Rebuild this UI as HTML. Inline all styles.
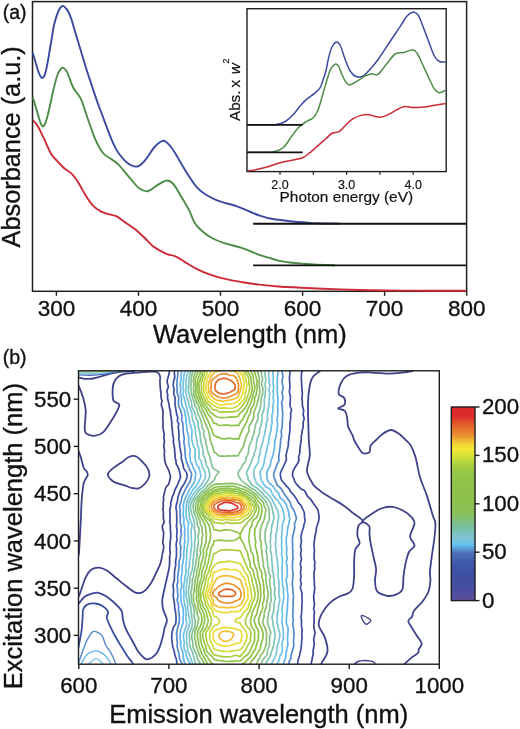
<!DOCTYPE html>
<html><head><meta charset="utf-8"><style>
html,body{margin:0;padding:0;background:#fff;}
svg{display:block;will-change:transform;}
text{font-family:"Liberation Sans", sans-serif;fill:#111;stroke:#111;stroke-width:0.35px;}
</style></head><body>
<svg width="520" height="729" viewBox="0 0 520 729">
<defs>
<clipPath id="clipI"><rect x="247.0" y="8.7" width="199.2" height="162.9"/></clipPath>
<clipPath id="clipB"><rect x="78.5" y="370.8" width="360.8" height="293.40000000000003"/></clipPath>
<linearGradient id="cbg" x1="0" y1="0" x2="0" y2="1"><stop offset="0.000" stop-color="#d92a2a"/><stop offset="0.045" stop-color="#dc2a2a"/><stop offset="0.100" stop-color="#e4662b"/><stop offset="0.150" stop-color="#eb9230"/><stop offset="0.190" stop-color="#f2d235"/><stop offset="0.220" stop-color="#f4e637"/><stop offset="0.250" stop-color="#d9e23a"/><stop offset="0.300" stop-color="#a8d040"/><stop offset="0.350" stop-color="#93c548"/><stop offset="0.480" stop-color="#8cc04c"/><stop offset="0.550" stop-color="#88c05a"/><stop offset="0.620" stop-color="#79bfa0"/><stop offset="0.676" stop-color="#7ec4d4"/><stop offset="0.713" stop-color="#62c1ef"/><stop offset="0.755" stop-color="#4d6fb8"/><stop offset="0.810" stop-color="#3e56a6"/><stop offset="0.870" stop-color="#3d4fa0"/><stop offset="0.940" stop-color="#4a4ea0"/><stop offset="1.000" stop-color="#5b4c9c"/></linearGradient>
</defs>
<rect x="32.5" y="1.6" width="434.1" height="289.7" fill="none" stroke="#1e1e1e" stroke-width="1.5"/>
<line x1="56.4" y1="291.3" x2="56.4" y2="295.8" stroke="#1e1e1e" stroke-width="1.4"/>
<text x="56.4" y="316.3" font-size="22.5" text-anchor="middle">300</text>
<line x1="138.5" y1="291.3" x2="138.5" y2="295.8" stroke="#1e1e1e" stroke-width="1.4"/>
<text x="138.5" y="316.3" font-size="22.5" text-anchor="middle">400</text>
<line x1="220.5" y1="291.3" x2="220.5" y2="295.8" stroke="#1e1e1e" stroke-width="1.4"/>
<text x="220.5" y="316.3" font-size="22.5" text-anchor="middle">500</text>
<line x1="302.6" y1="291.3" x2="302.6" y2="295.8" stroke="#1e1e1e" stroke-width="1.4"/>
<text x="302.6" y="316.3" font-size="22.5" text-anchor="middle">600</text>
<line x1="384.6" y1="291.3" x2="384.6" y2="295.8" stroke="#1e1e1e" stroke-width="1.4"/>
<text x="384.6" y="316.3" font-size="22.5" text-anchor="middle">700</text>
<line x1="466.7" y1="291.3" x2="466.7" y2="295.8" stroke="#1e1e1e" stroke-width="1.4"/>
<text x="466.7" y="316.3" font-size="22.5" text-anchor="middle">800</text>
<path d="M32.8,53.0C33.2,54.2 34.2,57.8 35.0,60.5C35.8,63.2 36.7,66.5 37.5,69.0C38.3,71.5 39.2,74.0 40.0,75.5C40.8,77.0 41.3,77.8 42.0,78.0C42.7,78.2 43.3,77.8 44.0,76.5C44.7,75.2 45.3,73.2 46.0,70.5C46.7,67.8 47.3,64.2 48.0,60.5C48.7,56.8 49.3,52.4 50.0,48.5C50.7,44.6 51.3,40.9 52.0,37.0C52.7,33.1 52.9,29.3 54.0,25.0C55.1,20.7 57.1,14.2 58.5,11.0C59.9,7.8 61.2,6.3 62.5,5.9C63.8,5.5 65.0,7.5 66.0,8.5C67.0,9.5 67.6,10.2 68.5,12.0C69.4,13.8 70.5,16.7 71.5,19.5C72.5,22.3 72.8,24.1 74.2,28.8C75.6,33.5 78.1,41.6 80.0,48.0C81.9,54.4 83.9,61.2 85.8,67.3C87.7,73.4 89.6,78.8 91.5,84.6C93.4,90.4 95.4,96.5 97.3,101.9C99.2,107.4 101.2,112.2 103.1,117.3C105.0,122.4 107.1,128.2 108.8,132.7C110.5,137.1 111.9,140.6 113.5,144.0C115.1,147.4 116.1,149.8 118.5,153.0C120.9,156.2 124.6,161.1 127.7,163.3C130.8,165.6 134.4,167.0 137.3,166.5C140.2,166.0 142.1,163.7 145.0,160.4C147.9,157.2 151.5,150.3 154.6,147.0C157.7,143.7 160.6,140.8 163.3,140.8C166.0,140.8 168.6,144.2 171.0,147.0C173.4,149.8 175.0,153.0 177.7,157.5C180.4,162.0 184.1,168.8 187.3,173.8C190.5,178.8 193.7,183.8 196.9,187.3C200.1,190.8 203.0,192.8 206.5,195.0C210.0,197.2 212.6,198.7 217.7,200.6C222.8,202.5 231.6,204.5 236.9,206.3C242.2,208.1 245.9,210.0 249.6,211.5C253.3,213.0 256.0,214.3 259.2,215.4C262.4,216.5 265.6,217.6 268.8,218.3C272.0,219.0 275.0,219.3 278.5,219.8C282.0,220.3 285.8,220.8 290.0,221.2C294.2,221.6 298.8,222.0 303.5,222.3C308.2,222.6 311.9,223.0 318.0,223.2C324.1,223.4 336.3,223.5 340.0,223.6" fill="none" stroke="#3b4a9e" stroke-width="1.9"/>
<path d="M32.8,97.4C33.2,98.6 34.2,101.9 35.0,104.5C35.8,107.1 36.7,110.2 37.5,113.0C38.3,115.8 39.2,119.3 40.0,121.5C40.8,123.7 41.6,125.8 42.4,126.3C43.2,126.8 44.0,125.7 44.7,124.5C45.4,123.3 46.1,121.1 46.7,119.0C47.3,116.9 47.8,115.0 48.5,112.0C49.2,109.0 50.2,104.8 51.0,101.0C51.8,97.2 52.4,93.8 53.5,89.5C54.6,85.2 56.0,78.6 57.5,75.0C59.0,71.4 60.8,68.4 62.3,67.7C63.8,67.0 65.3,69.3 66.5,71.0C67.7,72.7 68.3,75.2 69.4,78.0C70.5,80.8 71.4,84.2 73.3,87.7C75.2,91.2 78.6,94.1 81.0,99.2C83.4,104.3 85.3,111.8 87.7,118.5C90.1,125.2 92.9,133.8 95.4,139.6C98.0,145.3 100.4,149.8 103.0,153.0C105.6,156.2 108.2,156.9 110.8,158.8C113.4,160.7 115.4,161.4 118.5,164.6C121.6,167.8 126.1,173.8 129.6,177.7C133.0,181.6 136.1,186.1 139.2,188.3C142.2,190.6 144.7,191.8 147.9,191.2C151.1,190.5 155.4,186.2 158.5,184.4C161.6,182.6 163.8,180.8 166.2,180.6C168.6,180.4 170.3,180.8 172.9,183.5C175.5,186.2 178.8,192.4 181.5,196.9C184.2,201.4 187.0,206.1 189.2,210.4C191.4,214.7 192.4,219.2 194.6,222.7C196.8,226.2 199.4,228.8 202.3,231.3C205.2,233.9 208.4,236.1 211.9,238.0C215.4,239.9 218.7,241.3 223.5,242.9C228.3,244.5 236.5,246.3 240.8,247.7C245.2,249.0 246.5,249.8 249.6,251.0C252.7,252.2 256.0,253.7 259.2,254.8C262.4,255.9 265.6,256.7 268.8,257.7C272.0,258.7 275.0,259.8 278.5,260.6C282.0,261.4 285.8,262.0 290.0,262.5C294.2,263.0 299.0,263.4 303.5,263.8C308.0,264.2 311.8,264.5 317.0,264.7C322.2,264.9 332.0,265.1 335.0,265.2" fill="none" stroke="#4d8c47" stroke-width="1.9"/>
<path d="M33.0,120.4C33.8,121.3 36.0,123.1 37.7,126.0C39.5,128.9 41.2,133.0 43.5,137.7C45.8,142.4 49.0,150.2 51.2,154.0C53.5,157.8 54.8,158.4 57.0,160.8C59.2,163.2 62.2,166.4 64.6,168.5C67.0,170.6 69.1,171.1 71.3,173.3C73.5,175.5 75.3,177.9 77.7,181.5C80.1,185.1 82.9,191.0 85.4,195.0C88.0,199.0 90.4,202.9 93.0,205.6C95.6,208.3 98.2,209.9 100.8,211.3C103.4,212.7 105.9,213.4 108.5,214.2C111.1,215.0 113.3,214.8 116.2,216.2C119.1,217.6 122.6,220.7 125.8,222.9C129.0,225.1 132.2,227.0 135.4,229.6C138.6,232.2 142.1,235.6 145.0,238.3C147.9,241.0 150.1,243.9 152.7,246.0C155.3,248.1 157.9,249.4 160.4,250.8C162.9,252.2 165.2,253.5 167.7,254.4C170.2,255.3 172.5,255.0 175.4,256.3C178.3,257.6 181.5,260.0 185.0,262.1C188.5,264.2 192.3,266.7 196.5,268.8C200.7,270.9 204.9,272.8 210.0,274.6C215.1,276.4 221.9,278.1 227.3,279.4C232.8,280.7 237.4,281.4 242.7,282.3C248.0,283.2 253.2,283.9 259.2,284.6C265.2,285.3 272.1,286.0 278.5,286.5C284.9,287.0 291.3,287.2 297.7,287.5C304.1,287.8 309.9,288.2 317.0,288.5C324.1,288.8 331.2,289.1 340.0,289.4C348.8,289.7 360.0,290.0 370.0,290.2C380.0,290.4 384.0,290.5 400.0,290.6C416.0,290.7 455.0,290.8 466.0,290.8" fill="none" stroke="#cc2a36" stroke-width="1.9"/>
<line x1="253.1" y1="223.7" x2="466.6" y2="223.7" stroke="#111" stroke-width="1.9"/>
<line x1="253.1" y1="265.4" x2="466.6" y2="265.4" stroke="#111" stroke-width="1.9"/>
<rect x="247.0" y="8.7" width="199.2" height="162.9" fill="#fff" stroke="#1e1e1e" stroke-width="1.4"/>
<line x1="280.0" y1="171.6" x2="280.0" y2="174.79999999999998" stroke="#1e1e1e" stroke-width="1.2"/>
<line x1="313.3" y1="171.6" x2="313.3" y2="174.79999999999998" stroke="#1e1e1e" stroke-width="1.2"/>
<line x1="346.6" y1="171.6" x2="346.6" y2="174.79999999999998" stroke="#1e1e1e" stroke-width="1.2"/>
<line x1="379.9" y1="171.6" x2="379.9" y2="174.79999999999998" stroke="#1e1e1e" stroke-width="1.2"/>
<line x1="413.2" y1="171.6" x2="413.2" y2="174.79999999999998" stroke="#1e1e1e" stroke-width="1.2"/>
<text x="280.0" y="189.3" font-size="12.5" text-anchor="middle" style="stroke-width:0.15px">2.0</text>
<text x="346.6" y="189.3" font-size="12.5" text-anchor="middle" style="stroke-width:0.15px">3.0</text>
<text x="413.2" y="189.3" font-size="12.5" text-anchor="middle" style="stroke-width:0.15px">4.0</text>
<g clip-path="url(#clipI)">
<path d="M247.5,124.8C251.2,124.8 265.0,124.9 270.0,124.8C275.0,124.7 275.1,124.8 277.7,124.2C280.3,123.7 282.8,123.1 285.4,121.5C287.9,119.9 290.4,117.5 293.0,114.8C295.6,112.1 298.6,107.8 300.8,105.2C303.1,102.6 304.3,101.3 306.5,99.4C308.7,97.5 311.9,95.6 314.2,93.7C316.4,91.8 318.5,90.2 320.0,87.9C321.5,85.6 322.0,82.7 323.0,80.0C324.0,77.3 324.8,75.3 325.8,71.5C326.8,67.7 327.7,61.1 328.8,56.9C329.9,52.6 331.1,48.5 332.5,46.0C333.9,43.5 335.6,41.9 336.9,41.9C338.2,41.9 339.4,44.0 340.5,46.0C341.6,48.0 342.3,51.2 343.3,54.0C344.3,56.8 345.3,60.1 346.5,63.0C347.7,65.9 348.9,69.2 350.5,71.5C352.1,73.8 353.8,75.8 355.9,76.5C358.0,77.2 360.8,77.2 363.3,75.9C365.8,74.6 368.3,71.2 370.7,68.5C373.1,65.8 374.8,64.1 377.9,59.8C381.0,55.5 385.5,48.3 389.4,42.5C393.2,36.7 398.1,29.6 401.0,25.2C403.9,20.8 405.1,18.2 407.0,16.0C408.9,13.8 410.9,12.6 412.5,12.2C414.1,11.8 415.3,12.5 416.5,13.5C417.7,14.5 418.0,14.1 419.7,18.0C421.4,21.9 424.5,30.5 426.9,36.7C429.3,43.0 432.0,51.4 434.1,55.5C436.2,59.6 437.5,60.5 439.4,61.5C441.3,62.5 444.5,61.8 445.5,61.8" fill="none" stroke="#3b4a9e" stroke-width="1.5"/>
<path d="M247.5,152.3C250.9,152.3 263.6,152.4 268.0,152.3C272.4,152.2 271.2,152.6 273.8,151.8C276.4,151.0 280.6,150.0 283.5,147.5C286.4,145.0 288.6,140.3 291.2,136.9C293.8,133.5 296.2,129.9 298.8,127.3C301.4,124.7 304.1,123.1 306.5,121.5C308.9,119.9 311.4,119.6 313.3,117.7C315.2,115.8 316.2,114.5 318.0,110.0C319.8,105.5 321.9,97.2 323.8,90.8C325.7,84.4 328.1,75.6 329.6,71.5C331.1,67.4 331.9,67.2 333.0,66.0C334.1,64.8 335.1,63.9 336.1,64.1C337.1,64.3 338.1,65.3 339.0,67.0C339.9,68.7 340.8,71.8 341.8,74.2C342.9,76.6 344.0,79.4 345.3,81.2C346.6,83.0 347.6,85.0 349.5,85.0C351.4,85.0 354.4,82.7 357.0,81.2C359.6,79.7 362.9,77.1 365.4,75.9C367.8,74.7 369.6,74.0 371.7,73.8C373.8,73.5 375.5,76.0 378.0,74.4C380.5,72.8 383.6,67.5 386.5,64.1C389.4,60.7 392.3,55.9 395.2,54.0C398.1,52.1 400.9,53.3 403.8,52.6C406.7,51.9 410.3,49.6 412.5,49.7C414.7,49.8 415.6,51.1 417.0,53.0C418.4,54.9 419.0,56.7 421.1,61.2C423.2,65.7 427.6,75.4 429.8,80.0C432.0,84.6 432.5,86.5 434.1,88.6C435.7,90.7 437.5,92.5 439.4,92.8C441.3,93.1 444.5,90.6 445.5,90.2" fill="none" stroke="#4d8c47" stroke-width="1.5"/>
<path d="M247.5,171.2C249.0,170.9 253.1,170.3 256.5,169.6C259.9,168.8 264.1,167.8 268.0,166.7C271.9,165.6 275.4,164.0 279.6,162.9C283.8,161.8 289.1,160.9 293.0,160.0C296.9,159.1 299.8,159.0 302.7,157.7C305.6,156.4 307.8,154.3 310.4,152.3C312.9,150.3 315.4,147.8 318.0,145.6C320.6,143.3 323.4,140.9 325.8,138.8C328.2,136.7 330.3,134.2 332.5,133.0C334.7,131.8 336.9,133.1 339.2,131.7C341.5,130.3 344.1,126.7 346.3,124.5C348.6,122.3 350.2,120.3 352.7,118.8C355.2,117.3 358.7,116.1 361.2,115.4C363.7,114.7 365.4,114.3 367.5,114.4C369.6,114.5 371.5,115.6 373.8,116.1C376.1,116.5 378.8,117.4 381.3,117.1C383.8,116.8 386.1,115.6 388.7,114.4C391.3,113.2 394.5,111.0 397.1,109.7C399.7,108.4 401.7,106.8 404.5,106.5C407.3,106.2 410.6,107.5 414.0,107.6C417.4,107.7 421.4,107.3 424.6,107.0C427.8,106.7 429.6,106.1 433.1,105.5C436.6,104.9 443.4,103.8 445.5,103.4" fill="none" stroke="#cc2a36" stroke-width="1.5"/>
</g>
<line x1="247.0" y1="124.8" x2="302.7" y2="124.8" stroke="#111" stroke-width="1.8"/>
<line x1="247.0" y1="152.3" x2="302.7" y2="152.3" stroke="#111" stroke-width="1.8"/>
<text x="279.6" y="202" font-size="15.4" style="stroke-width:0.2px">Photon energy (eV)</text>
<text transform="translate(239.6,121.0) rotate(-90)" font-size="15.2" style="stroke-width:0.2px"><tspan x="0">Abs.</tspan><tspan x="33.5">x</tspan><tspan x="46.8" font-style="italic">w</tspan><tspan x="57.2" y="-10.4" font-size="9.6">2</tspan></text>
<text x="2.7" y="19.3" font-size="19.5">(a)</text>
<text transform="translate(20.4,247.4) rotate(-90)" font-size="25.3">Absorbance (a.u.)</text>
<text x="152.9" y="342.7" font-size="25.6">Wavelength (nm)</text>
<g clip-path="url(#clipB)" fill="none" stroke-width="1.7" stroke-linejoin="round">
<path d="M162.2,555.8 162.3,554.3 162.9,552.0 163.8,547.0 163.7,545.8 162.8,543.5 162.7,542.5 163.1,540.0 163.7,532.8 162.8,529.8 162.3,526.8 162.5,525.5 163.8,523.2 164.1,522.0 163.4,518.0 163.3,511.8 162.9,508.8 163.4,506.1 163.1,503.1 163.7,500.3 163.4,497.1 165.6,488.1 166.4,486.6 168.2,484.8 168.7,484.1 169.5,481.3 170.5,476.6 168.9,470.6 166.1,465.1 164.6,460.3 164.6,457.3 164.2,454.3 164.6,451.1 163.8,445.6 164.5,441.1 163.9,438.1 164.2,434.6 162.9,427.1 163.1,421.6 162.7,417.6 163.0,414.3 163.0,410.6 161.3,405.1 161.4,403.6 162.0,400.8 161.1,397.8 161.0,393.8 160.1,386.1 159.9,379.8 160.5,377.6" stroke="#3f4189"/>
<path d="M169.7,555.8 170.3,552.8 169.8,549.3 170.1,542.0 170.6,539.0 170.8,534.8 170.3,528.8 170.4,525.5 169.7,522.0 170.1,518.8 170.0,513.8 169.7,510.1 170.6,506.8 170.8,502.6 171.6,500.1 172.2,497.1 174.0,493.1 175.0,489.6 177.4,485.1 180.6,477.3 179.5,471.1 177.6,466.3 176.2,463.8 175.9,460.3 175.1,457.8 175.1,454.8 174.6,451.3 174.6,448.3 173.4,442.6 173.5,438.8 172.7,434.8 172.3,428.8 171.7,425.8 171.8,422.6 171.4,419.1 170.6,414.6 170.5,411.8 169.5,407.8 169.1,404.6 167.5,398.3 167.7,394.8 167.0,392.1 166.9,390.8 168.2,387.6 168.3,386.6 167.2,382.3 167.1,380.8 168.8,374.8 169.9,368.8" stroke="#3d4694"/>
<path d="M303.0,368.8 301.5,373.1 301.3,378.3 301.8,386.1 301.8,388.8 302.4,393.1 301.9,398.6 302.3,401.1 302.3,404.3 302.9,407.8 303.7,410.3 303.1,414.8 304.0,417.6 304.1,418.6 303.1,423.1 303.2,427.1 302.3,430.1 301.9,433.6 301.3,436.1 301.3,439.1 300.0,448.1 299.7,453.8 298.6,456.8 299.0,460.3 297.6,463.6 294.7,467.8 293.2,470.7 292.8,472.1 292.5,475.1 292.7,476.3 293.8,478.4 294.6,481.1 296.4,484.1 301.0,488.9 303.8,490.2 304.5,490.8 305.8,492.8 307.5,496.3 310.8,499.3 312.6,502.3 317.3,508.8 318.2,510.9 319.0,516.3 319.1,518.0 318.2,522.8 316.6,527.0 316.2,530.5 314.8,537.5 313.9,544.3 314.4,549.8 314.0,558.3 314.9,562.3 314.5,565.5 314.8,568.8 313.9,572.8 314.4,582.3 314.3,584.8 314.8,588.0 314.4,590.8 314.3,593.0 313.6,596.0 314.4,604.5 313.6,608.8 314.5,612.0 314.0,615.3 314.2,621.5 313.8,624.8 314.0,628.8 314.9,631.5 315.0,633.3 313.7,639.3 314.2,644.3 313.1,651.0 313.2,654.3 312.3,657.8 311.9,660.5 311.2,663.3 310.8,666.0" stroke="#3d4694"/>
<path d="M177.8,666.0 176.8,663.3 176.5,659.5 175.2,656.3 174.1,650.8 172.8,647.0 171.9,640.3 171.7,636.5 171.9,633.5 173.2,627.8 173.7,626.5 175.0,625.0 175.8,623.3 176.1,618.5 175.7,613.0 174.6,607.5 174.7,604.8 173.2,596.0 173.6,590.0 173.0,586.0 173.4,583.5 174.4,579.8 174.5,572.0 174.9,568.8 175.7,565.8 175.6,561.0 176.4,556.8 176.5,548.3 176.1,544.5 177.0,540.0 176.7,536.0 177.1,530.0 176.4,526.5 176.8,522.5 176.7,516.5 176.6,511.6 176.1,508.8 176.0,506.8 176.3,505.1 177.3,501.8 177.9,497.6 178.9,494.1 181.6,487.6 184.1,484.1 186.4,479.1 187.0,477.3 187.1,475.6 186.9,473.8 186.5,472.6 183.5,468.1 183.1,464.8 181.2,458.1 181.5,454.8 180.6,452.1 180.5,449.8 179.8,447.1 179.5,442.3 178.7,438.6 179.1,435.3 178.8,433.1 178.9,430.8 178.1,427.3 178.8,423.8 177.3,420.8 177.8,417.8 176.8,414.6 175.0,404.3 175.1,397.6 173.7,393.8 174.1,389.3 173.3,386.1 173.2,384.6 173.6,381.3 174.8,377.6 174.3,372.6 175.2,368.8" stroke="#3d50a0"/>
<path d="M289.6,368.8 290.0,372.1 289.4,378.6 290.0,386.6 289.3,391.8 290.4,396.1 290.0,406.1 290.3,407.1 291.2,408.6 291.5,410.3 290.7,413.3 290.6,419.6 289.8,423.6 290.1,427.1 289.8,431.3 288.4,442.3 288.3,445.6 286.0,455.3 286.4,458.8 286.3,460.1 282.8,468.0 280.8,471.8 280.3,474.1 280.9,478.6 281.6,480.3 287.0,486.6 289.0,488.6 290.5,491.7 293.4,494.6 296.8,499.5 298.1,502.3 300.4,504.8 301.3,506.1 304.1,512.0 304.5,514.0 304.4,516.5 305.1,520.0 304.9,522.0 303.9,524.8 303.3,528.3 301.9,532.0 301.0,536.0 300.9,538.0 301.5,541.0 300.6,546.5 301.3,549.8 300.6,554.3 301.5,559.0 300.3,563.8 301.1,567.5 300.5,573.0 301.1,576.5 300.3,580.0 301.3,583.5 301.2,584.5 300.5,586.5 300.4,587.5 301.9,593.0 301.9,597.3 302.2,600.0 301.6,613.5 301.0,616.8 301.5,620.0 301.4,626.0 302.2,629.8 301.7,634.3 302.2,637.8 301.5,640.8 301.6,643.5 301.2,646.3 301.1,649.3 300.0,652.9 299.5,656.0 298.1,660.0 297.4,666.0" stroke="#3d50a0"/>
<path d="M182.4,666.0 181.4,662.3 179.4,658.3 179.1,654.0 178.3,651.8 177.9,649.3 177.1,646.8 177.4,643.0 176.9,639.8 177.0,636.5 176.5,633.5 177.4,629.0 179.5,620.5 179.1,613.3 178.4,609.5 178.6,605.5 177.2,600.3 177.3,599.0 177.9,597.0 178.0,595.8 177.5,591.8 177.5,588.5 176.9,585.5 177.9,581.3 177.6,577.3 179.0,567.5 179.0,562.5 180.7,555.5 180.4,552.3 181.0,547.0 179.9,543.3 180.4,540.8 180.6,538.0 181.4,534.5 180.8,530.5 181.5,526.5 180.3,522.8 180.2,515.8 179.9,513.0 180.2,510.1 179.5,506.1 181.2,501.1 182.1,496.3 185.7,488.8 190.2,481.3 191.7,474.6 191.2,472.6 189.1,468.3 186.6,462.1 185.4,457.3 184.5,445.5 183.8,442.3 184.3,438.6 183.3,432.6 182.8,423.1 181.5,419.3 181.9,415.3 180.9,411.1 179.0,406.8 178.5,404.6 178.4,401.6 178.7,397.8 178.3,396.1 177.0,392.3 177.2,388.8 176.9,385.6 177.0,381.1 177.7,376.3 177.8,372.8 178.8,368.8" stroke="#5589cb"/>
<path d="M281.7,368.8 282.9,376.3 282.1,381.6 283.1,388.3 282.9,389.6 281.9,392.6 282.7,395.8 282.8,398.1 282.7,399.6 281.8,401.8 281.6,402.8 282.4,406.8 282.3,409.3 282.7,412.8 282.2,426.1 281.2,431.3 281.7,435.8 280.7,439.1 280.3,445.8 278.7,457.1 278.9,460.6 278.5,461.6 276.8,464.6 275.9,467.8 274.2,472.1 273.7,474.1 273.7,475.8 274.1,477.3 277.0,484.6 277.8,485.6 279.8,487.3 281.2,488.8 284.0,493.6 290.2,502.3 291.3,506.6 293.9,510.3 295.8,515.8 296.4,518.0 296.1,519.5 295.0,522.3 294.5,524.0 294.8,527.8 292.7,536.5 292.4,541.3 292.7,544.5 292.5,547.8 292.9,550.8 292.7,554.3 293.0,558.8 292.5,561.8 292.5,570.5 293.2,574.0 292.4,581.5 292.3,584.8 292.9,588.0 292.9,592.0 293.5,596.3 293.1,601.8 293.3,604.5 293.0,607.5 293.0,612.8 292.8,616.0 293.3,620.3 292.7,623.8 293.7,630.0 294.1,635.0 293.5,640.5 293.8,646.0 291.1,655.5 290.9,658.8 289.0,662.0 289.0,666.0" stroke="#5589cb"/>
<path d="M185.9,666.0 183.9,660.5 183.2,657.0 182.9,652.8 180.8,646.8 180.7,642.0 180.0,637.5 180.5,630.8 183.3,622.3 182.9,618.5 183.5,614.8 183.1,611.5 183.1,608.3 180.7,600.8 180.9,596.8 180.5,591.5 180.7,590.0 181.7,587.0 181.6,583.5 181.1,580.0 181.3,576.5 182.3,571.8 182.1,566.3 182.9,562.8 183.8,556.5 183.7,551.8 184.4,548.3 184.3,544.5 184.9,541.8 184.5,538.3 184.7,535.0 184.5,532.0 184.9,529.0 183.8,523.3 184.0,519.3 183.3,516.3 183.0,513.8 183.5,509.1 183.2,505.1 185.1,498.3 188.3,492.3 189.4,489.6 193.3,483.8 194.5,481.6 195.8,474.3 195.4,472.1 192.7,466.3 191.9,463.8 190.7,462.1 190.3,460.8 190.2,457.8 189.7,454.6 190.3,451.3 190.3,450.1 189.1,445.6 188.7,443.3 188.7,438.6 188.5,436.1 186.7,429.3 186.7,425.6 186.0,422.6 186.1,419.3 185.2,415.1 184.5,410.3 182.0,405.8 181.6,404.3 181.3,400.8 181.6,398.3 180.8,395.6 180.4,393.1 180.8,388.8 180.3,385.8 180.2,383.6 180.3,382.3 181.3,379.6 181.0,374.8 182.3,368.8" stroke="#64b6ea"/>
<path d="M278.2,368.8 278.3,371.6 277.4,377.1 277.3,379.3 277.4,392.6 278.0,401.6 277.6,405.6 277.9,409.1 277.7,411.6 277.9,414.6 276.9,419.3 277.6,423.6 277.4,426.8 276.0,436.8 274.7,441.3 274.5,448.6 273.6,451.8 273.3,454.6 270.8,461.1 270.4,465.1 268.5,468.6 267.0,471.9 266.7,473.8 267.2,479.1 268.2,481.5 270.0,483.8 272.5,485.6 275.5,490.4 278.4,492.8 279.0,494.1 279.8,497.1 280.5,497.9 283.1,500.1 286.3,504.8 288.5,511.6 288.8,513.0 288.9,515.8 289.9,518.8 287.5,529.5 287.2,533.8 286.5,536.8 286.2,541.5 286.8,549.5 286.4,553.5 287.2,558.0 287.1,559.3 286.2,562.3 287.2,566.8 287.3,569.8 287.1,573.3 287.4,575.8 287.2,576.8 286.1,578.8 285.9,579.8 286.5,582.5 287.4,588.5 287.3,591.3 287.9,594.5 288.0,598.0 287.4,605.5 287.5,608.0 287.1,610.3 287.1,612.8 286.6,616.0 286.3,621.8 286.7,624.3 287.9,627.3 288.2,628.8 287.5,637.8 287.9,645.3 287.0,648.0 286.6,650.8 285.9,653.5 285.7,657.5 284.2,661.3 282.9,666.0" stroke="#64b6ea"/>
<path d="M191.1,666.0 190.5,664.5 186.9,657.5 185.7,652.3 184.2,648.5 183.9,646.5 184.2,641.3 183.3,636.3 183.5,634.3 185.1,629.0 186.4,626.0 186.7,623.5 186.6,622.3 185.8,619.5 186.1,614.0 185.6,610.5 185.6,607.8 184.5,603.8 183.7,598.0 183.7,596.0 184.1,592.8 183.6,589.8 183.8,585.5 184.7,580.3 184.8,576.8 185.9,573.5 185.9,569.5 185.6,566.3 186.3,562.8 186.7,558.3 186.6,555.0 186.8,550.8 188.5,539.3 188.1,536.5 188.1,534.0 187.8,531.0 188.0,526.5 188.8,524.0 188.5,522.8 187.1,520.0 186.1,516.5 186.0,512.5 186.4,508.1 186.2,505.1 186.9,502.1 189.6,495.6 192.8,489.8 195.8,486.6 198.2,482.6 200.6,477.3 200.9,475.8 199.5,469.1 198.7,467.3 196.6,464.8 195.4,460.1 194.8,455.6 195.2,451.3 195.1,449.6 194.6,447.8 192.9,444.8 192.5,442.6 191.8,439.8 191.7,435.3 192.1,432.3 191.7,429.3 191.0,426.6 189.8,423.3 189.5,419.7 187.4,411.6 186.9,408.1 185.6,404.8 185.5,402.3 184.6,400.3 184.3,397.8 183.1,395.1 183.5,390.6 183.0,385.6 183.0,383.6 183.6,380.1 183.9,374.8 185.0,371.4 185.5,368.8" stroke="#6fc2e6"/>
<path d="M272.6,368.8 273.3,376.1 273.1,384.1 273.8,387.6 272.9,391.1 273.6,394.6 273.1,397.8 273.7,401.3 272.8,406.6 272.9,411.8 271.8,416.1 272.1,423.1 271.0,427.1 271.2,430.1 270.3,432.6 269.8,435.6 268.6,439.8 268.8,443.1 267.3,446.3 266.9,450.3 265.8,453.6 265.4,456.6 264.5,459.3 264.3,462.3 262.3,468.1 260.4,471.1 260.1,472.3 261.0,479.6 261.5,480.5 262.8,482.3 263.6,484.1 266.0,486.9 269.2,488.5 270.2,489.3 271.0,490.6 272.2,493.6 274.0,496.6 278.2,501.1 281.3,506.1 282.9,509.6 284.5,518.0 282.1,526.0 282.3,529.0 281.8,531.5 282.0,533.8 281.5,537.0 281.7,541.5 281.5,546.3 282.0,550.0 281.5,553.8 282.3,558.8 282.3,565.0 281.8,569.3 282.2,573.3 282.0,577.5 282.4,581.3 282.5,584.5 283.7,589.3 283.4,593.0 283.9,596.5 282.6,605.0 281.9,608.3 282.4,615.8 281.8,622.8 282.8,627.3 283.3,631.0 283.3,637.5 281.9,645.0 282.4,649.3 282.2,651.3 281.7,652.8 279.9,656.0 279.0,660.5 277.6,663.3 277.2,666.0" stroke="#6fc2e6"/>
<path d="M194.0,666.0 192.0,661.8 189.9,655.8 187.9,651.3 187.5,647.3 186.5,643.3 186.9,639.5 186.4,635.5 186.5,633.8 188.7,627.3 189.9,622.0 189.8,620.8 188.9,617.8 188.6,613.0 187.8,610.0 187.8,607.0 187.3,601.0 186.1,597.0 186.4,586.3 186.9,582.3 187.0,578.5 188.4,574.3 188.6,568.3 189.5,565.5 189.4,562.3 190.3,557.8 190.8,551.8 191.3,549.3 191.7,544.5 191.5,539.5 191.1,536.0 191.3,532.8 191.1,530.3 192.1,525.0 191.9,523.8 190.6,521.3 189.2,516.8 189.2,514.0 188.6,509.3 188.4,504.8 189.2,501.7 192.6,495.3 197.2,489.2 202.1,484.1 203.2,481.1 205.2,478.3 205.5,476.6 205.0,471.7 202.4,467.1 201.1,460.8 199.2,458.7 198.8,457.8 199.2,454.1 198.8,450.8 198.7,448.3 198.4,447.1 197.3,444.6 197.1,441.6 195.4,433.1 195.3,428.3 194.4,425.6 193.8,422.6 192.6,419.8 191.9,413.1 189.0,405.3 188.4,401.6 187.2,398.8 186.4,395.6 186.3,393.1 185.7,390.1 186.0,387.3 185.9,380.3 188.6,368.8" stroke="#7cc6d6"/>
<path d="M268.6,368.8 268.8,371.3 268.6,376.1 269.1,379.1 269.3,382.6 269.8,385.6 269.0,389.8 269.7,394.1 269.2,397.8 269.0,403.8 268.4,406.8 267.3,416.1 267.8,419.3 266.4,422.6 265.8,428.3 265.0,431.1 264.7,434.1 263.6,437.3 263.2,441.6 261.8,444.3 260.5,449.4 260.2,453.1 258.9,457.1 258.7,461.1 257.5,463.6 255.0,467.5 254.0,470.3 253.8,472.1 254.1,477.3 255.4,480.1 256.3,483.1 257.2,484.3 262.0,487.8 264.8,491.6 268.5,494.6 269.6,495.8 272.5,500.3 273.8,503.2 277.5,510.1 278.0,511.6 278.6,514.8 278.6,518.0 277.8,521.5 277.6,525.3 276.6,532.0 275.7,535.0 275.9,539.8 275.3,543.5 275.7,548.0 276.2,550.5 276.1,553.8 277.4,560.5 277.9,566.0 278.3,572.5 278.0,576.3 278.9,581.5 279.1,591.0 278.8,594.5 279.9,599.8 278.4,606.5 278.3,610.0 277.2,614.5 277.2,618.3 276.9,621.5 278.4,628.8 279.7,632.5 280.0,635.5 279.0,639.0 278.7,642.3 277.1,646.0 276.6,652.5 274.1,659.3 271.8,663.0 271.0,666.0" stroke="#7cc6d6"/>
<path d="M197.2,666.0 196.0,664.0 195.0,661.5 193.1,654.5 192.7,652.3 191.1,649.3 189.8,645.8 189.5,644.0 189.8,639.3 189.2,633.8 192.0,626.5 192.4,621.0 191.6,616.8 191.6,613.3 191.0,610.5 190.9,607.8 190.1,605.0 188.8,597.0 188.4,592.5 189.7,582.0 189.6,578.3 190.6,575.5 191.1,572.8 192.2,570.5 192.5,569.5 192.5,567.0 193.0,563.5 192.9,560.3 193.6,557.8 193.5,555.0 194.5,550.3 194.5,543.3 195.2,539.3 195.2,532.3 194.3,528.5 194.4,522.3 193.5,518.8 191.7,513.8 190.6,508.6 190.5,506.1 191.3,502.3 192.6,499.8 199.2,490.2 200.2,489.3 202.5,488.0 204.2,486.2 205.9,483.3 208.3,480.1 209.6,476.8 209.8,474.8 208.4,468.6 206.5,465.3 205.1,458.8 203.3,455.1 203.2,452.3 202.7,448.3 200.8,441.8 200.0,434.3 199.2,429.8 198.2,425.8 198.0,421.4 196.2,418.7 194.8,412.8 192.0,407.1 191.4,401.6 190.0,397.8 188.4,390.8 188.4,386.8 188.9,383.3 188.8,379.3 191.3,368.8" stroke="#80c4b6"/>
<path d="M265.2,368.8 265.0,374.6 265.8,379.8 265.1,384.3 265.7,389.1 265.2,392.3 265.2,395.8 264.2,399.6 264.5,403.6 264.1,408.8 261.9,415.6 262.0,419.8 261.2,424.8 259.6,429.6 259.5,433.3 257.2,438.8 256.4,443.8 256.2,446.6 255.3,450.8 254.1,453.3 253.7,456.1 252.1,459.1 251.1,462.6 246.7,472.1 246.5,473.3 246.7,474.3 247.8,476.5 248.2,479.6 250.2,482.1 251.2,484.3 252.3,485.3 256.5,487.7 262.0,492.7 264.8,496.3 267.5,498.3 268.8,500.8 270.4,502.8 272.0,507.6 274.0,517.8 271.5,527.5 271.3,529.0 271.5,531.8 270.5,535.5 270.7,538.5 270.1,541.5 270.7,545.8 270.4,550.5 271.7,555.0 271.6,558.0 271.9,562.5 272.4,565.8 272.4,570.0 272.7,571.8 273.4,574.0 273.6,578.0 274.5,580.5 273.8,584.5 274.9,587.3 275.1,588.5 275.0,590.3 274.2,593.3 275.3,597.0 275.4,598.3 273.9,604.0 274.1,607.0 273.7,610.5 271.9,617.5 272.7,620.5 273.4,626.8 274.7,631.8 275.0,637.3 274.5,639.5 273.9,644.0 272.6,648.5 271.5,651.5 270.7,655.0 266.8,661.9 265.2,666.0" stroke="#80c4b6"/>
<path d="M201.7,666.0 198.0,660.0 197.2,657.8 196.4,654.0 192.9,647.0 192.6,645.3 192.9,642.0 192.1,639.3 191.7,637.0 191.9,634.8 192.9,630.3 194.9,626.5 194.9,624.0 195.5,621.3 194.2,617.3 194.1,615.8 194.5,612.8 193.8,609.5 193.5,606.8 192.0,603.3 191.5,601.4 191.4,596.5 190.8,592.8 191.6,590.0 191.7,587.3 192.3,584.8 192.3,579.3 193.6,576.0 193.6,573.3 194.5,570.8 194.8,568.0 195.6,565.5 195.9,561.0 197.0,556.5 197.0,549.8 198.0,546.0 198.4,540.5 198.1,536.8 199.2,529.3 199.0,528.0 197.2,524.9 197.3,521.5 197.0,520.0 194.0,513.0 193.2,507.1 193.2,504.3 193.5,502.8 194.2,501.3 196.7,497.6 199.1,495.1 200.8,492.3 201.5,491.6 203.6,490.6 205.0,489.5 206.2,488.1 208.0,485.1 210.5,483.6 213.9,480.3 214.8,479.0 215.5,476.5 218.3,473.3 219.0,472.1 217.2,470.8 214.8,469.7 213.0,467.8 212.2,466.3 210.3,458.6 208.0,451.8 205.8,442.8 205.4,439.6 203.7,435.3 203.5,433.6 204.0,431.6 204.0,430.6 202.2,427.9 201.8,424.6 200.8,420.3 200.1,418.3 198.0,414.1 196.7,408.6 195.0,406.1 194.6,403.3 193.1,399.3 191.6,394.1 191.4,391.1 190.6,387.8 191.1,384.6 190.9,380.6 192.0,374.1 194.0,368.8" stroke="#86c294"/>
<path d="M260.2,368.8 261.4,371.3 261.5,374.6 262.5,378.3 262.5,380.3 261.8,382.8 261.7,384.1 262.0,385.8 262.9,388.1 263.1,389.1 262.7,391.3 262.6,394.6 261.2,398.3 260.9,401.6 260.9,404.3 260.3,407.8 259.5,410.9 257.9,414.1 258.2,417.1 258.1,418.6 255.6,424.8 254.6,428.8 254.0,433.3 252.8,436.3 251.3,441.3 249.6,444.8 248.8,448.1 248.5,452.3 247.6,455.1 246.2,457.6 245.6,460.8 245.0,462.1 242.8,464.6 240.9,468.6 238.5,471.3 238.2,473.3 238.5,476.0 241.5,480.6 245.6,483.8 247.8,485.2 250.2,487.5 254.8,490.1 259.2,494.1 264.9,500.1 265.6,501.1 266.7,503.8 268.1,506.1 269.1,509.3 269.3,519.0 268.8,521.0 267.1,524.3 266.7,527.0 265.1,531.8 265.1,539.8 265.2,541.3 266.8,546.8 266.8,548.0 266.2,550.0 266.1,551.3 267.0,554.8 267.1,560.3 267.6,562.5 267.7,565.5 268.6,569.0 268.5,572.3 269.0,573.5 270.2,575.3 270.5,576.3 269.5,579.8 270.0,582.8 269.7,585.3 270.8,588.8 270.9,597.3 271.3,600.3 269.7,605.0 269.9,609.0 268.6,612.5 267.5,621.3 267.9,624.0 270.7,632.0 270.9,633.0 269.5,636.8 269.7,641.0 269.3,645.5 268.9,647.0 267.6,649.8 267.4,652.8 267.1,654.3 266.3,655.8 264.2,658.1 262.7,660.3 260.3,666.0" stroke="#86c294"/>
<path d="M256.6,368.8 257.5,371.3 258.0,373.6 259.3,377.8 259.1,383.3 259.6,388.8 259.8,393.6 258.6,397.1 258.0,400.8 256.3,406.3 253.8,412.8 253.6,416.6 253.3,418.1 251.7,422.1 248.8,427.1 248.7,428.1 249.0,430.3 248.8,431.8 246.2,436.3 243.2,447.0 240.8,450.4 239.0,453.8 238.5,455.6 236.5,455.8 234.0,455.6 231.0,456.0 228.0,455.8 225.0,456.3 222.5,455.9 221.0,456.1 219.2,455.9 218.2,455.3 216.2,453.3 214.2,452.3 213.4,449.1 210.2,439.8 209.8,436.6 208.5,430.6 205.8,424.8 201.8,413.7 199.7,410.1 199.0,406.6 197.5,404.2 196.5,402.1 195.5,398.8 193.9,395.1 193.6,393.6 193.9,391.1 193.4,388.3 194.1,385.1 193.3,381.1 193.6,377.6 194.4,374.6 195.8,371.5 197.3,368.8" stroke="#8ac06a"/>
<path d="M205.0,666.0 202.7,660.3 200.7,657.8 199.9,656.3 197.4,648.8 196.1,645.8 195.7,641.0 194.4,637.0 195.0,633.8 195.1,630.5 197.2,626.5 198.8,618.8 198.5,617.3 197.3,615.0 197.1,611.3 195.8,608.8 195.2,605.3 193.7,601.5 193.5,600.0 193.5,594.0 194.3,590.3 194.4,587.8 195.0,583.3 195.1,579.5 196.5,575.8 196.7,571.5 198.4,565.8 198.8,559.0 200.9,553.5 200.8,552.5 200.2,550.5 200.2,549.5 201.2,546.0 201.7,543.0 201.8,538.3 202.8,535.0 202.1,531.3 202.1,527.3 200.3,523.8 199.9,520.5 196.1,512.0 195.8,510.6 195.5,505.3 196.8,501.1 198.2,498.8 202.5,493.8 207.5,490.1 209.5,487.4 210.5,486.5 214.5,484.4 216.0,484.1 226.2,483.6 229.0,483.7 231.8,483.3 239.0,484.5 242.2,486.1 245.5,487.1 248.6,489.3 250.8,490.6 255.8,494.2 257.2,495.6 259.0,498.1 261.4,500.1 262.8,501.8 263.5,503.2 264.2,505.8 265.9,509.3 264.6,518.0 263.9,520.3 261.6,525.0 260.3,530.8 259.9,537.5 260.2,539.8 261.3,543.3 261.1,547.3 262.0,551.0 261.9,553.8 262.5,556.5 262.6,559.8 263.5,563.3 263.3,566.5 264.6,569.5 265.0,572.0 265.9,575.0 265.8,578.3 266.6,585.5 267.6,589.3 268.1,593.0 268.0,595.3 267.5,599.3 266.8,601.8 266.2,607.8 264.4,611.8 264.0,617.0 262.7,621.3 263.6,625.0 265.6,629.0 266.5,632.3 266.6,634.8 266.3,638.3 266.4,642.5 265.8,645.8 263.6,651.5 262.8,652.8 260.6,655.3 259.5,658.3 257.7,661.0 256.8,664.0 255.1,666.0" stroke="#8ac06a"/>
<path d="M253.4,368.8 255.4,374.6 257.1,381.1 256.9,383.8 257.3,387.8 256.4,392.1 256.2,394.8 254.6,398.3 254.4,402.3 253.6,405.1 251.2,408.8 250.4,413.1 247.9,417.6 247.2,420.8 242.3,429.8 240.3,434.6 239.5,437.3 238.8,439.1 236.8,438.6 233.2,438.8 229.0,438.1 224.8,438.9 221.2,438.7 219.2,437.6 216.5,436.6 214.0,435.4 212.6,432.6 211.8,429.3 210.4,426.8 208.1,421.1 204.3,413.1 202.0,408.8 201.0,405.4 198.6,401.6 197.6,397.8 196.3,395.6 195.9,394.3 195.7,389.3 196.0,385.8 195.3,380.3 195.4,378.8 197.3,373.6 199.7,368.8" stroke="#8cc04c"/>
<path d="M209.2,666.0 206.0,661.3 204.8,658.3 202.9,656.0 201.3,652.8 200.6,650.0 198.7,645.0 198.4,640.8 197.4,637.3 197.8,631.0 200.4,626.5 202.1,620.8 201.4,615.0 198.1,607.8 198.0,604.0 196.3,599.5 196.8,595.0 196.4,591.3 196.6,587.5 197.5,583.3 197.6,579.3 198.6,576.5 199.6,570.3 200.7,566.5 201.2,563.5 202.1,561.3 202.5,558.8 203.5,555.3 203.7,553.5 203.3,550.8 203.4,549.3 204.9,545.8 206.1,541.8 206.3,540.3 206.1,537.5 206.5,534.5 205.9,530.8 205.5,525.5 203.5,522.3 202.6,519.8 201.2,518.0 198.3,511.8 197.8,509.6 197.7,506.6 198.6,502.1 199.3,500.6 204.5,494.6 208.5,491.7 211.8,488.8 214.2,487.5 217.8,486.7 221.2,486.5 224.0,486.7 226.8,486.4 233.0,486.3 235.8,486.7 242.2,489.2 245.0,489.6 247.8,491.6 250.8,493.2 255.5,496.8 258.0,501.2 261.0,504.3 261.6,506.1 261.9,510.3 261.3,514.8 259.7,519.5 257.8,522.5 256.7,525.8 254.9,528.8 254.6,535.3 255.8,541.8 255.3,545.0 255.4,547.0 256.7,550.8 257.0,553.8 257.9,556.5 257.9,560.0 258.7,562.8 259.3,567.0 259.9,568.8 261.3,571.3 261.9,573.3 261.9,576.8 263.3,581.8 264.0,589.3 263.8,592.3 264.3,597.0 263.6,601.0 262.5,604.0 262.8,608.0 260.0,615.0 258.9,618.5 258.7,620.5 258.8,622.3 259.3,624.0 261.5,628.2 262.2,630.0 263.0,633.8 263.1,636.0 262.5,640.0 260.9,644.3 260.6,647.3 260.3,648.3 258.0,652.5 254.2,658.4 251.7,660.8 250.2,663.5 247.8,666.0" stroke="#8cc04c"/>
<path d="M250.7,368.8 251.1,372.1 252.9,375.1 253.9,382.1 254.9,387.1 254.7,388.6 253.5,392.8 253.2,395.3 251.8,400.1 249.9,404.8 248.2,408.1 246.9,412.3 244.5,415.6 242.8,419.3 240.2,422.1 238.8,425.5 238.5,425.7 237.5,425.4 235.8,425.3 231.2,425.7 227.5,425.2 224.0,425.1 220.8,425.5 219.5,425.4 218.2,425.0 215.5,423.4 213.8,423.4 211.4,418.3 208.0,414.1 206.5,410.8 204.3,407.6 202.1,403.3 200.4,400.6 199.6,397.1 198.3,394.3 197.5,391.1 197.6,386.8 197.3,382.8 197.7,379.8 198.9,376.3 199.9,374.3 200.5,371.6 201.8,368.8" stroke="#8fc24a"/>
<path d="M217.8,666.0 216.0,665.3 214.0,665.4 211.3,663.0 208.9,659.8 207.6,657.0 205.8,654.7 204.4,652.3 203.8,649.0 202.4,646.5 201.3,643.5 201.0,640.8 200.3,638.0 200.4,635.3 200.2,632.3 200.8,631.0 202.5,628.8 203.2,627.5 203.6,624.5 204.5,622.0 204.6,619.3 204.1,614.3 202.5,610.5 200.7,607.8 200.1,603.5 198.7,599.8 198.6,598.3 199.1,594.8 198.3,591.5 198.3,590.0 200.4,580.5 201.7,577.0 201.7,573.5 202.4,570.0 203.1,568.0 204.3,565.5 205.1,562.0 205.5,558.8 206.6,554.3 206.5,550.3 207.9,547.5 208.7,544.0 210.3,539.8 210.6,533.5 209.8,529.5 209.5,526.8 209.1,525.3 208.2,523.8 206.0,521.1 204.9,518.8 202.4,515.5 200.0,510.6 199.6,508.3 200.3,505.6 200.6,502.6 202.0,499.8 204.2,497.8 205.8,495.8 209.6,493.6 212.4,491.1 214.2,489.9 216.8,489.3 221.2,488.7 224.5,488.9 227.8,488.0 229.2,488.2 232.0,489.1 235.5,489.1 238.2,489.7 239.5,490.2 241.5,491.5 244.8,492.1 247.8,494.4 250.2,495.5 251.9,497.1 253.8,498.3 254.6,499.3 256.8,504.1 258.5,506.8 259.0,508.6 258.8,512.0 257.3,516.3 256.1,518.0 253.7,519.8 252.4,521.5 252.0,525.0 250.3,527.8 249.7,529.3 249.6,532.0 248.8,537.5 249.6,545.0 250.7,548.5 251.0,551.3 252.9,554.8 253.6,557.3 254.0,562.5 255.2,566.8 256.5,569.0 256.9,570.3 257.5,572.8 257.6,575.8 260.4,586.0 260.9,594.8 260.7,597.5 259.7,602.3 257.4,610.3 257.0,613.8 254.7,617.5 254.1,620.3 254.2,621.3 255.2,623.5 255.8,626.3 257.9,629.5 258.4,631.0 258.6,632.5 258.3,635.3 258.5,639.3 256.2,645.5 255.5,649.3 253.1,652.3 250.6,657.0 249.5,658.3 247.2,659.8 245.8,661.7 243.5,663.2 240.5,666.0" stroke="#8fc24a"/>
<path d="M247.0,368.8 248.0,372.3 250.1,375.6 250.6,376.8 251.4,383.8 252.2,386.6 252.3,388.1 251.0,395.1 248.8,399.7 247.5,403.3 245.2,408.1 243.5,410.1 239.8,413.3 238.2,416.1 237.8,416.4 234.2,417.1 230.2,416.8 226.8,417.5 221.5,417.6 218.5,417.3 217.0,416.8 213.5,414.9 212.8,413.8 210.5,412.5 204.1,402.8 203.2,400.7 202.0,398.7 199.8,392.8 199.4,390.8 199.5,387.8 198.9,384.6 199.0,383.1 200.9,377.6 202.1,375.1 202.6,371.8 204.3,368.8" stroke="#94c548"/>
<path d="M227.2,661.6 222.5,660.8 219.0,660.6 214.2,659.4 212.9,657.5 207.5,652.2 206.7,651.0 205.9,647.0 204.3,642.8 202.8,637.0 202.8,633.5 203.3,631.8 205.9,628.3 206.8,626.8 208.2,621.5 208.3,620.0 207.1,616.8 206.5,613.0 204.9,609.0 202.9,606.3 202.5,604.8 202.3,602.3 200.7,599.5 200.6,598.3 201.1,595.3 200.2,591.0 200.3,590.0 201.4,587.8 201.6,584.5 204.1,578.0 204.4,574.8 205.4,571.0 206.6,568.5 207.1,565.3 208.2,562.8 208.5,560.5 209.3,557.8 209.6,554.5 211.3,548.0 211.9,546.5 213.5,544.0 214.0,540.9 216.0,540.5 221.0,540.2 222.8,540.6 226.2,540.6 229.2,540.9 234.2,540.4 235.8,539.8 238.1,538.3 239.1,537.5 240.1,536.3 240.0,534.3 238.6,533.0 236.0,531.8 229.8,530.0 228.0,529.8 224.8,529.9 220.8,530.8 214.0,529.7 213.2,527.0 210.8,521.7 209.8,520.5 207.5,518.8 206.0,516.8 204.0,514.9 202.1,509.6 201.8,507.8 202.0,504.8 203.0,501.9 203.8,500.7 205.5,499.2 208.3,496.3 211.3,494.3 214.0,492.0 215.0,491.5 216.5,491.2 219.2,491.2 221.8,490.5 224.5,490.6 227.8,489.7 231.8,491.1 235.2,491.2 238.0,491.8 241.2,493.2 243.5,493.7 244.5,494.1 246.8,496.1 249.2,497.7 251.2,499.7 253.3,501.3 254.0,502.3 256.1,506.8 256.4,508.6 256.2,510.3 254.4,513.3 253.5,515.8 251.8,518.0 248.2,521.5 246.2,524.6 243.9,527.0 240.9,532.5 240.3,535.0 240.6,538.0 241.2,540.0 243.7,544.3 244.8,547.0 247.2,552.0 248.9,559.3 250.3,562.5 250.2,566.0 250.4,567.0 252.6,569.8 253.3,571.3 254.5,577.3 256.0,580.6 256.2,583.0 257.1,586.3 258.1,592.0 257.9,597.5 257.1,601.8 252.4,612.3 250.4,621.3 250.5,622.8 251.2,625.8 252.0,627.3 254.1,630.0 254.6,631.5 254.8,633.0 254.5,636.0 254.7,639.3 254.5,640.8 252.2,645.8 250.7,649.8 249.5,652.3 248.0,654.2 244.5,656.8 242.0,659.7 240.5,660.8 240.0,661.0 236.2,660.8 233.2,661.3 229.8,661.1 227.2,661.6" stroke="#94c548"/>
<path d="M244.9,368.8 245.6,372.6 248.4,377.3 249.0,384.3 249.8,387.6 248.3,394.3 245.9,400.8 242.9,404.6 241.0,407.6 237.8,410.8 236.0,411.0 233.2,411.9 230.0,411.6 226.5,412.2 223.2,411.9 220.5,412.3 219.5,412.1 216.0,410.1 214.8,409.8 213.0,409.9 212.2,409.4 209.9,405.8 207.2,403.5 206.2,402.3 205.1,399.8 203.5,397.1 202.5,394.6 201.5,391.3 201.9,387.6 201.2,384.6 201.1,383.3 203.8,375.8 204.7,372.1 206.4,368.8" stroke="#adce43"/>
<path d="M223.2,523.8 219.5,523.1 214.0,522.6 212.2,520.0 209.7,517.8 208.0,515.1 205.5,512.9 204.5,511.3 203.8,509.6 203.4,508.1 203.3,506.1 203.5,504.8 204.5,503.2 209.4,497.3 214.0,494.0 215.8,493.1 216.8,493.0 219.5,493.2 221.5,493.0 226.2,491.7 227.5,491.6 231.8,492.6 234.8,493.0 239.5,494.1 243.5,495.4 245.0,496.2 248.3,498.8 249.3,500.1 250.8,502.7 253.7,506.1 254.1,507.8 253.8,509.6 252.0,511.8 250.5,515.0 249.2,516.8 244.7,519.8 242.4,521.8 240.5,523.1 235.0,523.2 231.8,523.6 229.8,523.2 226.8,522.2 226.0,522.4 224.2,523.5 223.2,523.8" stroke="#adce43"/>
<path d="M230.5,656.8 223.5,656.9 214.0,654.9 212.8,653.5 211.3,650.8 209.9,648.8 209.0,646.5 207.8,644.3 206.5,640.3 206.4,638.0 205.9,635.8 206.0,632.8 206.5,631.5 208.2,629.5 210.5,625.0 211.3,622.0 211.5,619.0 211.1,617.8 209.9,615.5 209.0,611.8 206.8,607.1 205.4,604.8 205.1,601.5 204.0,598.8 203.7,595.8 202.7,592.5 202.9,591.5 204.0,589.3 204.3,586.5 205.2,584.0 205.5,581.0 206.5,576.8 209.4,569.5 210.0,566.4 211.3,563.8 211.6,560.8 212.9,558.0 213.2,555.0 213.8,553.5 214.0,553.4 214.2,553.6 215.8,553.1 219.0,550.9 221.0,550.2 227.0,549.6 231.0,550.2 234.2,550.1 238.0,550.6 240.0,550.5 240.2,550.8 242.0,555.5 243.7,558.5 244.7,562.3 246.5,565.4 247.6,568.8 249.9,572.3 250.5,574.5 251.6,577.3 252.7,584.0 253.8,587.0 254.2,589.8 255.1,593.3 254.9,596.3 254.3,599.0 252.4,602.8 249.7,611.3 247.5,614.8 246.1,618.0 245.3,621.3 245.6,623.3 246.3,625.3 247.3,626.8 249.8,629.5 251.1,632.5 251.2,634.3 250.3,637.5 250.6,640.3 250.3,641.5 248.2,644.5 246.2,649.0 245.2,650.8 244.2,652.1 242.2,653.9 240.2,656.6 239.2,656.4 237.0,655.5 235.5,655.3 234.0,655.5 231.7,656.5 230.5,656.8" stroke="#adce43"/>
<path d="M242.3,368.8 242.7,369.8 243.3,372.8 245.2,376.8 247.0,385.3 246.9,386.6 245.9,388.8 245.7,392.1 244.9,395.1 244.6,398.1 244.0,399.1 240.7,402.8 237.2,406.3 233.0,408.0 228.2,408.3 224.2,407.8 220.0,408.1 216.4,407.1 212.8,404.9 211.2,403.4 208.5,401.7 207.8,400.8 207.0,398.7 205.1,394.8 203.8,391.1 203.7,383.1 205.2,377.8 206.7,375.1 207.3,371.6 208.2,370.2 210.5,368.8" stroke="#ceda3e"/>
<path d="M222.5,520.3 214.0,518.7 211.1,515.5 206.8,511.6 205.6,510.1 204.9,507.6 205.0,505.6 211.2,497.6 214.0,495.8 216.0,494.8 222.2,494.9 226.0,493.4 227.8,493.2 236.5,495.5 240.0,495.8 244.2,497.3 246.5,499.1 247.6,500.6 249.1,503.6 251.1,506.1 251.4,507.1 251.0,509.1 248.2,513.8 247.5,514.7 244.3,516.5 240.8,519.1 239.0,519.8 232.5,520.1 229.0,520.0 225.8,519.3 222.5,520.3" stroke="#ceda3e"/>
<path d="M229.8,651.3 228.2,651.5 224.0,651.4 221.0,651.1 214.8,649.3 214.0,648.8 212.4,644.8 210.2,641.0 209.7,639.3 209.7,634.3 210.0,632.5 210.5,631.0 211.5,629.3 214.2,625.8 217.6,624.5 218.5,623.9 219.2,622.8 219.4,621.3 218.8,619.5 217.4,618.0 215.8,616.8 214.0,616.2 213.5,615.5 213.1,614.5 212.9,612.3 212.4,611.0 211.5,609.5 209.7,607.3 207.9,604.0 205.1,593.8 205.3,592.8 206.4,590.5 206.8,588.0 207.8,585.0 208.3,579.5 210.0,576.0 210.9,571.5 214.0,565.6 217.0,563.4 221.0,561.9 224.5,562.1 227.2,561.4 229.0,561.2 231.5,561.5 240.0,563.6 242.5,567.0 244.0,570.8 247.0,574.8 248.3,577.3 248.8,581.4 250.7,588.5 251.8,597.5 251.4,599.3 249.7,602.3 248.1,607.8 247.5,608.9 243.7,612.3 241.7,615.8 240.0,617.7 236.8,618.8 236.1,619.3 235.1,620.5 235.2,621.3 235.8,621.8 239.8,623.3 240.0,623.0 240.2,623.3 241.6,626.0 245.5,630.5 247.1,634.8 246.5,639.8 245.5,641.5 244.3,644.8 242.8,646.7 241.5,648.8 240.5,649.7 240.0,650.0 238.2,650.1 235.5,650.7 232.2,650.8 229.8,651.3" stroke="#ceda3e"/>
<path d="M238.2,368.8 239.0,370.0 240.1,372.8 242.4,376.1 243.7,379.8 244.0,381.6 244.2,384.8 243.2,388.8 243.2,392.3 241.3,397.1 239.2,400.0 237.0,402.0 235.5,402.7 231.0,404.2 229.8,404.3 227.0,403.9 221.8,405.3 220.2,405.0 213.8,402.0 210.0,399.4 207.5,394.3 206.0,389.8 205.7,384.8 207.0,381.3 207.4,378.3 208.9,376.1 210.6,372.1 212.5,369.9 214.3,368.8" stroke="#eedc39"/>
<path d="M233.5,517.8 229.8,518.0 227.0,517.5 223.8,517.6 219.2,517.3 214.2,516.0 212.2,513.8 209.3,512.0 207.9,510.6 207.3,509.3 207.0,508.1 206.9,506.6 207.2,505.6 208.6,503.3 212.4,498.6 214.0,497.4 216.5,496.4 223.0,496.2 225.2,495.8 227.8,495.0 228.8,495.0 235.8,497.1 240.0,497.6 242.3,498.6 243.9,499.6 245.2,502.1 247.5,504.2 248.7,505.8 249.1,507.3 248.8,508.8 245.5,513.3 240.8,516.4 237.7,516.8 233.5,517.8" stroke="#eedc39"/>
<path d="M228.2,612.6 223.2,612.6 218.2,611.7 216.1,610.8 214.2,609.5 211.4,605.3 211.0,603.8 210.6,601.0 208.5,597.8 207.5,594.5 207.5,593.5 208.8,589.5 210.0,586.8 210.7,584.0 211.8,581.3 212.5,577.8 212.9,574.3 213.8,571.9 214.2,572.4 217.2,571.5 221.0,569.7 226.2,568.9 232.0,570.0 234.5,569.5 235.5,569.6 240.0,571.7 242.4,575.8 244.5,578.0 245.1,579.3 246.0,584.3 247.7,589.0 247.9,591.5 247.8,594.8 248.2,597.3 247.9,598.8 244.3,605.0 240.0,610.9 235.8,611.9 231.0,611.5 228.2,612.6" stroke="#eedc39"/>
<path d="M225.8,646.1 223.8,646.1 218.5,644.6 216.4,643.3 214.2,641.2 213.5,639.3 213.0,635.3 213.3,633.3 214.0,631.3 217.5,629.2 220.2,628.8 223.0,627.6 225.0,627.4 228.5,627.8 232.0,627.9 240.2,630.4 241.3,632.0 242.2,635.5 241.4,638.3 241.2,641.0 240.5,642.4 240.0,642.8 236.8,643.2 234.0,644.4 229.8,645.8 225.8,646.1" stroke="#eedc39"/>
<path d="M224.2,401.3 223.0,401.4 219.2,400.7 216.0,399.8 215.0,399.3 212.0,396.8 209.8,393.8 209.0,392.3 208.6,390.1 208.6,387.3 208.2,384.8 210.2,378.3 212.0,375.2 214.5,372.6 216.6,371.3 220.2,370.7 223.5,369.5 225.0,369.3 229.2,370.6 234.0,371.2 237.0,372.7 237.9,374.1 240.2,379.3 240.5,381.8 241.3,383.8 241.5,384.8 240.1,391.8 238.3,396.3 237.6,397.3 236.8,398.0 233.2,399.3 227.8,400.3 224.2,401.3" stroke="#f2be35"/>
<path d="M225.2,515.8 223.5,515.8 216.0,514.6 214.4,513.5 213.0,511.8 210.5,510.8 209.6,510.1 209.2,509.1 209.1,507.8 209.2,506.1 209.5,505.1 211.8,501.8 214.0,499.7 217.0,498.4 218.5,498.1 225.0,497.6 228.0,497.1 230.5,497.7 233.2,497.9 235.8,498.6 238.8,498.9 240.2,499.3 241.5,500.2 243.4,502.8 246.5,506.1 246.6,507.8 245.7,509.6 243.5,512.5 241.0,514.2 237.8,514.5 233.8,515.5 231.0,515.7 227.8,515.4 225.2,515.8" stroke="#f2be35"/>
<path d="M228.0,607.8 223.8,607.3 219.8,607.5 216.5,605.9 214.2,605.1 213.8,605.1 213.2,603.8 213.2,601.5 213.0,600.3 210.7,596.0 210.2,594.8 210.2,593.5 210.5,592.0 214.2,582.1 217.2,578.3 221.0,576.2 226.2,575.6 229.2,575.9 235.0,577.6 240.0,579.6 241.2,581.0 241.7,584.3 243.0,586.5 243.5,588.0 244.1,592.3 244.4,597.5 242.9,601.0 241.1,604.0 240.0,605.3 236.2,606.7 233.5,607.4 230.2,607.4 228.0,607.8" stroke="#f2be35"/>
<path d="M226.0,641.3 224.2,641.3 223.0,640.9 221.0,639.3 219.5,637.8 219.1,636.8 218.9,635.5 219.3,634.5 220.4,632.8 221.0,632.2 222.2,631.6 225.5,631.1 229.5,631.5 232.8,633.0 233.5,634.0 233.7,635.3 231.8,638.4 230.8,639.4 229.3,640.3 227.8,641.0 226.0,641.3" stroke="#f2be35"/>
<path d="M225.5,398.1 222.2,398.0 219.0,397.2 217.5,396.5 214.3,394.6 211.8,392.5 211.1,391.6 210.8,390.2 211.4,381.8 212.1,380.1 213.5,378.6 216.2,376.9 218.8,374.7 222.8,373.7 226.5,373.9 230.0,375.3 233.0,375.5 234.2,376.1 236.2,378.1 237.2,379.8 237.8,382.8 238.6,385.3 238.4,390.3 237.8,391.9 236.5,393.8 228.5,397.3 225.5,398.1" stroke="#ec922f"/>
<path d="M224.2,514.3 223.0,514.4 221.0,514.0 216.8,512.7 214.2,511.0 212.2,509.1 211.4,507.8 211.3,505.8 212.2,504.1 213.3,502.6 214.0,501.9 216.8,501.0 219.5,499.6 221.0,499.2 222.8,499.1 226.8,499.1 229.8,499.5 232.8,499.2 235.8,500.1 238.5,500.5 240.3,501.3 244.1,506.1 244.3,507.3 243.8,508.8 242.6,510.3 240.8,512.1 234.2,513.9 226.8,513.8 224.2,514.3" stroke="#ec922f"/>
<path d="M227.0,603.1 224.2,602.8 221.0,601.9 219.2,601.1 218.1,600.0 216.5,597.5 213.3,595.5 212.8,594.8 212.7,593.8 213.0,592.3 213.8,590.5 214.2,590.4 216.6,588.5 219.2,586.0 224.0,583.7 227.0,583.2 231.0,584.0 234.3,585.3 238.5,588.4 240.0,589.9 240.9,592.5 241.2,594.5 241.0,595.9 240.0,598.7 238.1,600.0 232.0,602.5 227.0,603.1" stroke="#ec922f"/>
<path d="M225.0,393.9 222.8,393.9 219.8,393.4 218.2,392.9 216.8,391.7 215.8,390.6 215.1,389.1 214.9,387.6 215.0,385.8 215.6,383.3 216.2,382.1 217.3,380.8 219.0,379.5 224.0,378.1 226.0,378.5 230.2,380.3 232.0,381.3 234.5,383.8 235.0,384.8 235.3,386.1 235.1,388.6 234.0,390.0 230.0,392.2 225.0,393.9" stroke="#e2682b"/>
<path d="M230.2,512.6 228.5,512.6 225.5,512.1 221.5,512.3 218.0,511.2 216.5,510.3 214.2,508.3 213.7,506.3 214.0,505.1 215.2,504.1 220.0,501.5 224.5,500.5 229.5,500.9 232.5,500.9 233.5,501.2 235.5,502.5 238.8,503.0 240.5,504.5 241.4,506.1 241.6,507.8 240.8,509.6 239.6,510.3 238.2,510.9 233.2,512.2 230.2,512.6" stroke="#e2682b"/>
<path d="M231.8,596.3 221.0,596.4 219.2,595.0 218.7,594.3 218.7,593.5 219.3,592.5 221.0,591.3 225.2,589.3 227.0,589.1 230.2,589.4 232.2,589.9 233.5,590.5 234.6,591.5 235.5,593.0 235.4,594.3 234.6,595.3 233.5,595.9 231.8,596.3" stroke="#e2682b"/>
<path d="M230.5,510.8 228.8,510.9 226.0,510.4 221.5,510.1 220.0,509.7 219.0,509.2 218.2,508.5 217.8,507.3 217.9,506.3 218.8,505.3 220.7,504.1 225.0,502.3 227.5,502.3 231.8,503.1 234.5,504.8 237.2,506.0 237.8,506.9 237.8,507.8 237.5,508.4 236.8,508.8 230.5,510.8" stroke="#d6352a"/>
<path d="M78.5,385.3C79.2,387.2 81.6,392.6 82.8,396.8C84.0,401.0 85.4,404.9 85.7,410.3C86.0,415.8 84.4,425.5 84.7,429.5C85.0,433.5 85.8,433.3 87.6,434.3C89.4,435.3 92.7,436.0 95.3,435.7C97.9,435.4 100.4,434.7 103.0,432.4C105.6,430.1 108.5,425.2 110.7,421.8C113.0,418.4 115.1,415.1 116.5,412.2C117.9,409.3 119.8,406.4 119.3,404.5C118.8,402.6 114.7,402.6 113.6,400.7C112.5,398.8 112.6,395.9 112.6,393.0C112.6,390.1 112.6,386.1 113.6,383.4C114.6,380.6 116.3,378.1 118.4,376.5C120.5,374.9 123.1,374.3 126.0,373.7C128.9,373.1 131.5,373.0 135.7,372.7C139.9,372.4 147.6,371.8 151.0,371.7C154.4,371.6 155.0,371.5 156.3,371.9C157.6,372.2 158.3,372.9 159.0,373.8C159.7,374.7 160.2,376.9 160.5,377.6" stroke="#3f4189" stroke-width="1.8"/>
<path d="M78.5,377.5C79.7,377.7 83.2,378.6 85.7,378.8C88.2,379.0 90.9,378.9 93.4,378.5C96.0,378.1 98.1,377.3 101.0,376.5C103.9,375.7 107.2,374.5 110.7,373.7C114.2,372.9 118.0,372.1 122.0,371.7C126.0,371.2 132.8,371.1 135.0,371.0" stroke="#3f4189" stroke-width="1.8"/>
<path d="M78.5,450.7C78.9,451.9 80.1,455.1 81.0,458.0C81.9,460.9 82.8,465.8 83.8,468.0C84.8,470.2 86.1,470.3 86.7,471.5C87.3,472.7 88.1,473.5 87.6,475.4C87.1,477.3 84.8,479.1 83.8,483.0C82.8,486.9 82.3,492.7 81.8,498.5C81.3,504.3 81.2,511.3 80.9,517.7C80.6,524.1 80.2,531.2 79.9,537.0C79.6,542.8 79.3,549.1 79.0,552.3C78.7,555.5 78.4,555.4 78.3,556.0" stroke="#3f4189" stroke-width="1.8"/>
<path d="M107.8,474.3C108.0,472.1 111.4,469.6 113.8,467.6C116.2,465.6 119.5,463.9 121.9,462.2C124.3,460.5 126.2,458.6 128.0,457.5C129.8,456.4 131.2,456.0 132.7,455.9C134.1,455.8 135.1,455.9 136.7,456.8C138.3,457.7 140.4,459.8 142.1,461.5C143.8,463.2 145.6,464.8 146.8,466.9C148.0,469.0 149.4,472.1 149.5,474.3C149.6,476.6 148.7,478.4 147.5,480.4C146.3,482.4 143.7,485.0 142.1,486.4C140.5,487.8 139.9,488.3 138.1,488.5C136.3,488.7 133.3,488.2 131.3,487.8C129.3,487.4 128.1,486.5 126.0,485.8C123.9,485.1 120.8,484.5 118.6,483.7C116.3,482.9 114.3,482.6 112.5,481.0C110.7,479.4 107.6,476.5 107.8,474.3Z" stroke="#3f4189" stroke-width="1.8"/>
<path d="M78.5,371.9C82.1,371.9 93.9,371.8 100.0,371.7C106.1,371.6 111.3,371.5 115.0,371.4C118.7,371.3 120.8,371.1 122.0,371.0" stroke="#8cc04c" stroke-width="1.3"/>
<path d="M78.5,373.1C81.2,373.1 89.8,373.4 95.0,373.3C100.2,373.2 106.2,372.9 110.0,372.6C113.8,372.3 116.7,371.7 118.0,371.5" stroke="#67c0ea" stroke-width="1.3"/>
<path d="M78.5,374.8C80.4,374.9 85.6,375.3 90.0,375.2C94.4,375.1 100.8,374.6 105.0,374.1C109.2,373.6 111.7,372.9 115.0,372.4C118.3,371.9 123.3,371.4 125.0,371.2" stroke="#4a6cb8" stroke-width="1.4"/>
<path d="M162.2,555.8C161.9,557.2 161.1,561.4 160.2,564.0C159.3,566.6 158.3,568.3 156.8,571.5C155.3,574.7 153.3,579.6 151.1,583.0C148.9,586.4 146.0,590.1 143.4,591.7C140.8,593.3 138.6,593.7 135.7,592.7C132.8,591.8 129.2,588.4 126.0,586.0C122.8,583.6 119.7,580.9 116.5,578.3C113.3,575.7 109.7,572.4 106.8,570.6C103.9,568.8 101.8,567.9 99.2,567.7C96.7,567.5 93.8,568.0 91.5,569.6C89.2,571.2 87.6,573.3 85.7,577.3C83.8,581.3 81.1,590.4 79.9,593.7C78.7,597.0 78.6,596.5 78.3,597.0" stroke="#3f4189" stroke-width="1.8"/>
<path d="M169.7,555.8C169.7,557.3 169.7,562.4 169.5,565.0C169.3,567.6 169.2,567.5 168.4,571.5C167.6,575.5 165.5,584.0 164.5,588.8C163.5,593.5 162.5,596.6 162.3,600.0C162.1,603.4 162.3,605.9 163.1,609.2C163.9,612.5 166.7,616.9 166.9,620.0C167.2,623.1 165.2,625.1 164.6,627.7C164.0,630.3 163.9,632.3 163.1,635.4C162.3,638.5 161.2,643.1 160.0,646.2C158.8,649.3 158.1,651.6 156.2,653.8C154.3,656.0 150.6,658.6 148.5,659.2C146.4,659.9 145.6,659.1 143.8,657.7C142.0,656.3 139.4,653.3 137.7,650.8C136.0,648.3 134.9,645.4 133.4,642.7C131.9,640.0 130.2,637.1 128.8,634.6C127.5,632.1 126.3,630.2 125.3,627.7C124.3,625.2 123.6,622.3 123.0,619.6C122.4,616.9 122.6,613.6 121.8,611.5C121.0,609.4 119.9,608.6 118.4,606.9C116.9,605.2 114.7,603.0 112.6,601.2C110.5,599.4 108.1,597.4 105.7,596.0C103.3,594.6 100.5,593.2 98.2,592.8C95.9,592.4 94.0,593.1 91.8,593.7C89.6,594.3 87.2,594.8 84.9,596.5C82.7,598.2 79.4,602.8 78.3,604.0" stroke="#3d4694" stroke-width="1.8"/>
<path d="M78.3,648.0C78.8,645.2 80.8,636.3 81.5,631.2C82.2,626.1 82.3,621.0 82.6,617.3C82.9,613.6 82.4,611.3 83.2,609.2C84.0,607.1 85.2,605.6 87.2,604.6C89.2,603.6 92.8,603.3 95.3,603.5C97.8,603.7 100.1,604.5 102.2,605.8C104.3,607.1 107.2,609.6 108.0,611.5C108.8,613.4 106.6,615.2 106.8,617.3C107.0,619.4 107.8,621.1 109.2,624.2C110.6,627.3 112.8,631.9 114.9,635.8C117.0,639.6 119.7,643.8 121.8,647.3C123.9,650.8 125.9,654.0 127.6,656.5C129.3,659.0 131.3,660.9 132.2,662.3C133.1,663.7 132.9,664.5 133.0,665.0" stroke="#3d50a0" stroke-width="1.8"/>
<path d="M78.5,663.0C79.6,660.0 83.1,649.5 84.9,645.0C86.7,640.5 88.2,638.0 89.5,635.8C90.8,633.6 91.7,632.3 93.0,631.7C94.3,631.1 96.1,631.6 97.6,632.3C99.1,633.0 100.8,633.7 102.2,635.8C103.6,637.9 104.4,642.3 105.7,645.0C107.0,647.7 109.0,649.6 110.3,651.9C111.6,654.2 112.8,656.6 113.8,658.8C114.8,661.0 115.6,664.0 116.0,665.0" stroke="#5589cb" stroke-width="1.4"/>
<path d="M80.5,665.0C81.6,663.2 84.7,656.6 87.2,654.2C89.7,651.8 92.8,651.0 95.3,650.8C97.8,650.6 100.1,651.8 102.2,653.1C104.3,654.4 106.5,656.8 108.0,658.8C109.5,660.8 110.9,664.0 111.5,665.0" stroke="#64b6ea" stroke-width="1.3"/>
<path d="M87.5,665.0C88.8,664.0 93.0,659.3 95.3,658.8C97.5,658.2 99.7,660.7 101.0,661.7C102.3,662.7 103.0,664.5 103.4,665.0" stroke="#6fc2e6" stroke-width="1.3"/>
<path d="M320.4,370.9C319.1,371.9 314.5,374.6 312.7,377.2C310.9,379.8 310.4,382.1 309.6,386.5C308.8,390.9 308.1,394.5 308.0,403.4C307.9,412.3 308.5,431.3 308.8,440.0C309.1,448.7 310.1,450.3 309.8,455.4C309.5,460.5 306.7,466.6 306.9,470.8C307.1,475.0 309.5,477.8 310.8,480.4C312.1,483.0 312.4,484.0 314.6,486.2C316.8,488.4 321.0,491.6 324.2,493.8C327.4,496.0 330.6,497.7 333.8,499.6C337.0,501.5 340.3,503.1 343.5,505.4C346.7,507.6 349.9,510.5 353.1,513.1C356.3,515.7 361.8,518.7 362.7,520.8C363.6,522.9 359.4,523.1 358.5,525.6C357.6,528.1 357.2,532.6 357.4,535.5C357.6,538.4 360.0,540.8 359.6,543.2C359.2,545.6 356.1,546.4 355.2,549.7C354.3,553.0 354.3,558.5 354.1,562.9C353.9,567.3 354.4,571.8 354.1,576.1C353.8,580.4 353.6,585.8 352.5,588.7C351.4,591.6 349.8,592.2 347.7,593.5C345.6,594.8 342.9,594.8 340.0,596.3C337.1,597.8 333.4,599.4 330.4,602.3C327.3,605.2 323.6,609.9 321.7,613.8C319.8,617.6 318.3,621.5 318.8,625.4C319.3,629.2 323.2,632.6 324.6,636.9C326.1,641.2 328.0,647.0 327.5,651.3C327.0,655.6 322.8,660.6 321.7,662.9C320.6,665.2 321.1,664.6 321.0,665.0" stroke="#3f4189" stroke-width="1.8"/>
<path d="M362.7,520.8C364.0,519.0 370.6,514.5 373.9,512.4C377.2,510.3 379.6,508.9 382.7,508.0C385.8,507.1 389.3,506.5 392.6,506.9C395.9,507.3 399.3,508.6 402.4,510.2C405.5,511.8 409.2,514.6 411.2,516.8C413.2,519.0 414.7,520.1 414.5,523.4C414.3,526.7 410.1,532.9 410.1,536.6C410.1,540.3 414.7,542.8 414.5,545.4C414.3,548.0 410.5,549.1 409.0,552.0C407.5,554.9 406.6,558.9 405.7,562.9C404.8,566.9 404.1,571.7 403.5,576.1C402.9,580.5 403.7,586.2 402.4,589.3C401.1,592.4 398.4,593.6 395.8,594.7C393.2,595.8 390.2,596.3 387.1,595.8C384.0,595.2 379.2,593.9 377.2,591.4C375.2,588.9 375.2,584.1 375.0,580.5C374.8,576.9 376.3,573.2 376.1,569.5C375.9,565.8 374.8,562.9 373.9,558.5C373.0,554.1 371.3,547.2 370.6,543.2C369.9,539.2 369.7,537.1 369.5,534.4C369.3,531.6 370.1,528.5 369.5,526.7C368.9,524.9 367.3,524.4 366.2,523.4C365.1,522.4 361.4,522.6 362.7,520.8Z" stroke="#3f4189" stroke-width="1.8"/>
<path d="M413.0,370.9C411.1,371.2 405.7,372.2 401.5,372.7C397.3,373.2 393.4,373.8 388.0,373.7C382.6,373.6 373.6,372.5 368.8,372.3C364.0,372.1 362.4,372.3 359.2,372.7C356.0,373.1 352.2,373.6 349.6,374.6C347.0,375.6 345.5,376.5 343.8,378.5C342.1,380.5 340.4,383.9 339.6,386.5C338.8,389.1 338.0,392.3 338.8,394.2C339.6,396.1 343.3,396.2 344.2,398.0C345.1,399.8 345.2,403.3 344.2,405.0C343.2,406.7 338.0,407.3 338.1,408.3C338.2,409.3 343.5,409.2 345.0,411.0C346.5,412.8 346.8,416.2 347.3,418.8C347.8,421.4 347.2,423.7 348.1,426.5C349.0,429.3 351.7,433.4 352.7,435.7C353.7,437.9 353.1,437.9 354.1,440.0C355.1,442.1 357.3,445.8 358.8,448.0C360.3,450.2 361.1,452.5 362.9,453.2C364.7,453.9 368.2,453.4 369.5,452.1C370.8,450.8 369.5,447.5 370.6,445.5C371.7,443.5 374.2,441.9 376.1,440.0C378.1,438.1 379.8,436.0 382.3,434.3C384.8,432.6 388.1,430.0 391.0,430.0C393.9,430.0 397.2,432.6 399.6,434.3C402.1,436.0 403.8,438.1 405.7,440.0C407.6,441.9 409.4,443.0 411.0,445.9C412.6,448.8 414.1,452.4 415.6,457.6C417.1,462.8 418.2,471.1 420.0,477.3C421.8,483.5 424.4,488.3 426.6,494.9C428.8,501.5 431.7,512.0 433.2,516.8C434.7,521.5 435.2,519.7 435.4,523.4C435.6,527.1 434.9,533.7 434.3,538.8C433.8,543.9 432.8,548.6 432.1,554.1C431.4,559.6 430.2,567.4 429.9,571.7C429.6,576.0 430.6,576.7 430.4,580.0C430.2,583.3 429.8,588.0 428.5,591.5C427.2,595.0 425.1,598.0 422.7,601.2C420.3,604.4 415.8,608.2 414.0,610.8C412.2,613.3 413.1,614.8 412.1,616.5C411.2,618.2 408.3,619.4 408.3,621.3C408.3,623.2 410.7,625.6 412.1,628.0C413.5,630.4 415.3,633.2 416.9,635.8C418.5,638.4 421.4,641.3 421.7,643.5C422.0,645.7 419.4,647.6 418.8,649.2C418.2,650.8 419.2,651.5 417.9,653.0C416.6,654.5 413.6,655.9 411.2,657.9C408.8,659.9 404.8,663.8 403.5,665.0" stroke="#3f4189" stroke-width="1.8"/>
<path d="M361.2,616.5C361.1,615.4 362.1,615.4 363.1,615.6C364.1,615.8 365.7,616.7 367.0,617.5C368.3,618.3 370.8,619.3 370.8,620.4C370.8,621.5 368.0,623.9 366.9,624.2C365.8,624.5 364.9,623.6 364.0,622.3C363.1,621.0 361.3,617.6 361.2,616.5Z" stroke="#3f4189" stroke-width="1.4"/>
<path d="M353.5,665.0C354.2,664.4 356.4,662.2 358.0,661.5C359.6,660.8 361.4,660.7 363.1,660.6C364.8,660.5 366.4,660.6 368.0,660.8C369.6,661.0 371.3,661.0 372.7,661.7C374.1,662.4 375.9,664.5 376.5,665.0" stroke="#3f4189" stroke-width="1.4"/>
</g>
<rect x="78.5" y="370.8" width="360.8" height="293.40000000000003" fill="none" stroke="#1e1e1e" stroke-width="1.4"/>
<line x1="78.8" y1="664.2" x2="78.8" y2="669.0" stroke="#1e1e1e" stroke-width="1.4"/>
<text x="78.8" y="692.6" font-size="22.3" text-anchor="middle">600</text>
<line x1="168.9" y1="664.2" x2="168.9" y2="669.0" stroke="#1e1e1e" stroke-width="1.4"/>
<text x="168.9" y="692.6" font-size="22.3" text-anchor="middle">700</text>
<line x1="259.1" y1="664.2" x2="259.1" y2="669.0" stroke="#1e1e1e" stroke-width="1.4"/>
<text x="259.1" y="692.6" font-size="22.3" text-anchor="middle">800</text>
<line x1="349.2" y1="664.2" x2="349.2" y2="669.0" stroke="#1e1e1e" stroke-width="1.4"/>
<text x="349.2" y="692.6" font-size="22.3" text-anchor="middle">900</text>
<line x1="439.3" y1="664.2" x2="439.3" y2="669.0" stroke="#1e1e1e" stroke-width="1.4"/>
<text x="439.3" y="692.6" font-size="22.3" text-anchor="middle">1000</text>
<line x1="73.7" y1="635.4" x2="78.5" y2="635.4" stroke="#1e1e1e" stroke-width="1.4"/>
<text x="71.2" y="643.0" font-size="22.3" text-anchor="end">300</text>
<line x1="73.7" y1="588.2" x2="78.5" y2="588.2" stroke="#1e1e1e" stroke-width="1.4"/>
<text x="71.2" y="595.8" font-size="22.3" text-anchor="end">350</text>
<line x1="73.7" y1="540.9" x2="78.5" y2="540.9" stroke="#1e1e1e" stroke-width="1.4"/>
<text x="71.2" y="548.5" font-size="22.3" text-anchor="end">400</text>
<line x1="73.7" y1="493.7" x2="78.5" y2="493.7" stroke="#1e1e1e" stroke-width="1.4"/>
<text x="71.2" y="501.3" font-size="22.3" text-anchor="end">450</text>
<line x1="73.7" y1="446.4" x2="78.5" y2="446.4" stroke="#1e1e1e" stroke-width="1.4"/>
<text x="71.2" y="454.0" font-size="22.3" text-anchor="end">500</text>
<line x1="73.7" y1="399.2" x2="78.5" y2="399.2" stroke="#1e1e1e" stroke-width="1.4"/>
<text x="71.2" y="406.8" font-size="22.3" text-anchor="end">550</text>
<text x="2.7" y="363.8" font-size="19.5">(b)</text>
<text transform="translate(21.9,689.2) rotate(-90)" font-size="25.5">Excitation wavelength (nm)</text>
<text x="109.2" y="722.7" font-size="25.5">Emission wavelength (nm)</text>
<rect x="451.3" y="407.0" width="23.69999999999999" height="193.60000000000002" fill="url(#cbg)" stroke="#1e1e1e" stroke-width="1.4"/>
<line x1="475.0" y1="600.6" x2="479.5" y2="600.6" stroke="#1e1e1e" stroke-width="1.4"/>
<text x="481.9" y="607.6" font-size="22.3">0</text>
<line x1="475.0" y1="552.2" x2="479.5" y2="552.2" stroke="#1e1e1e" stroke-width="1.4"/>
<text x="481.9" y="559.2" font-size="22.3">50</text>
<line x1="475.0" y1="503.8" x2="479.5" y2="503.8" stroke="#1e1e1e" stroke-width="1.4"/>
<text x="481.9" y="510.8" font-size="22.3">100</text>
<line x1="475.0" y1="455.4" x2="479.5" y2="455.4" stroke="#1e1e1e" stroke-width="1.4"/>
<text x="481.9" y="462.4" font-size="22.3">150</text>
<line x1="475.0" y1="407.0" x2="479.5" y2="407.0" stroke="#1e1e1e" stroke-width="1.4"/>
<text x="481.9" y="414.0" font-size="22.3">200</text>
</svg>
</body></html>
